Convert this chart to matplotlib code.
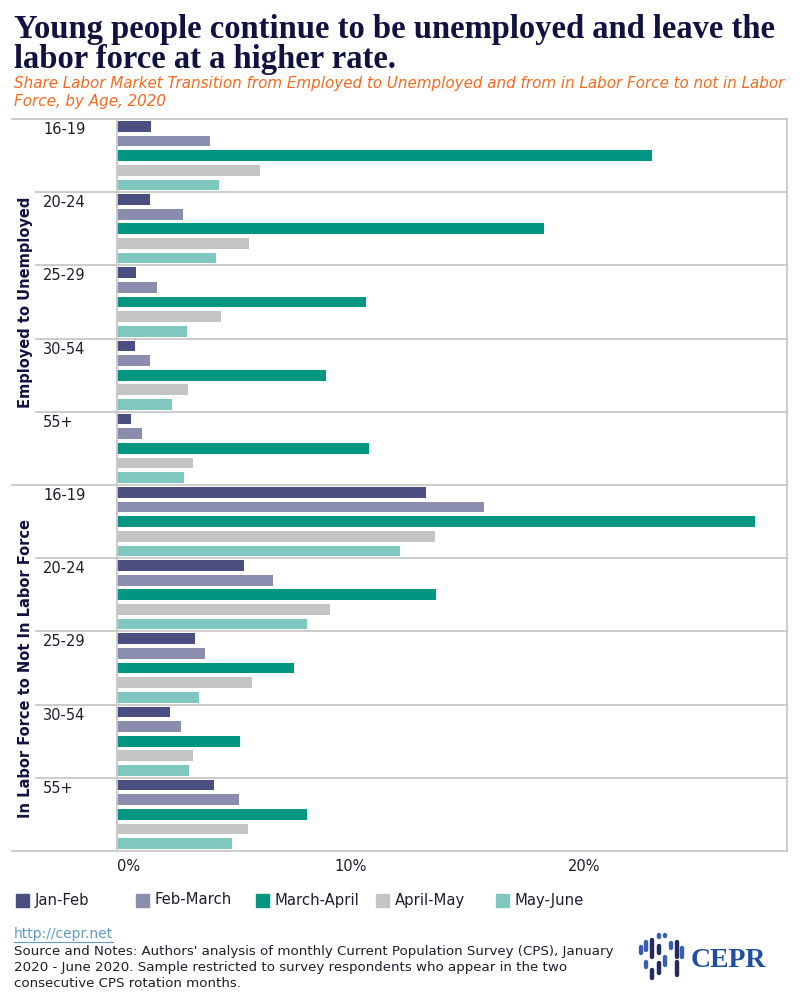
import matplotlib
matplotlib.use("Agg")
import matplotlib.pyplot as plt
from matplotlib.patches import Rectangle
from matplotlib.lines import Line2D

# data (share of workers making the transition, %)
sections = ["Employed to Unemployed", "In Labor Force to Not In Labor Force"]
ages = ["16-19", "20-24", "25-29", "30-54", "55+"]
periods = ["Jan-Feb", "Feb-March", "March-April", "April-May", "May-June"]
colors = ["#4a4e80", "#8b8dae", "#009682", "#c4c4c4", "#80c8bf"]

emp_to_unemp = {
    "Jan-Feb":     [1.46, 1.41, 0.81, 0.77, 0.60],
    "Feb-March":   [3.98, 2.83, 1.71, 1.41, 1.07],
    "March-April": [22.91, 18.29, 10.66, 8.95, 10.79],
    "April-May":   [6.12, 5.65, 4.45, 3.04, 3.25],
    "May-June":    [4.37, 4.24, 3.00, 2.36, 2.87],
}
lf_to_nilf = {
    "Jan-Feb":     [13.23, 5.44, 3.34, 2.27, 4.15],
    "Feb-March":   [15.72, 6.68, 3.77, 2.74, 5.22],
    "March-April": [27.32, 13.65, 7.58, 5.27, 8.14],
    "April-May":   [13.62, 9.12, 5.78, 3.25, 5.61],
    "May-June":    [12.12, 8.14, 3.51, 3.08, 4.93],
}
x_ticks = [0, 10, 20]
x_ticklabels = ["0%", "10%", "20%"]

W, H = 800, 1000
fig = plt.figure(figsize=(8, 10), dpi=100)
ax = fig.add_axes([117 / W, 1 - 851 / H, 670 / W, 732 / H])

grid_c = "#c8c8c8"
text_c = "#1e1e2e"
navy = "#10123f"

n_age = len(ages)
bar_h = 0.146
for s, data in enumerate([emp_to_unemp, lf_to_nilf]):
    for j, p in enumerate(periods):
        ys = [s * n_age + i + (j + 0.5) / len(periods) for i in range(n_age)]
        ax.barh(ys, data[p], height=bar_h, color=colors[j], label=p if s == 0 else None)

ax.set_xlim(0, 670 / 23.35)
ax.set_ylim(2 * n_age, 0)

# group separators
ytr = ax.get_yaxis_transform()
for k in range(2 * n_age + 1):
    x0 = -0.157 if k % n_age == 0 else -0.121
    ax.plot([x0, 1], [k, k], color=grid_c, lw=1.3, transform=ytr, clip_on=False, zorder=0)

for sp in ["top", "bottom"]:
    ax.spines[sp].set_visible(False)
for sp in ["left", "right"]:
    ax.spines[sp].set_color(grid_c)
    ax.spines[sp].set_linewidth(1.3)

ax.set_yticks([])
ax.set_xticks(x_ticks)
ax.set_xticklabels(x_ticklabels, fontsize=10.5, color=text_c)
ax.tick_params(axis="x", length=0, pad=6)
ax.get_xticklabels()[0].set_ha("left")

# age labels
for s in range(2):
    for i, a in enumerate(ages):
        ax.text(-0.110, s * n_age + i + 0.04, a, transform=ytr, ha="left", va="top",
                fontsize=10.5, color=text_c)

# section labels
for s, name in enumerate(sections):
    yc = 1 - (119 + (s + 0.5) * 366) / H
    fig.text(26 / W, yc, name, rotation=90, ha="center", va="center",
             fontsize=10.5, fontweight="bold", color=navy)

# title and subtitle
fig.text(14 / W, 1 - 38 / H, "Young people continue to be unemployed and leave the",
         fontsize=23.5, fontweight="bold", family="Liberation Serif", color=navy, va="baseline")
fig.text(14 / W, 1 - 68 / H, "labor force at a higher rate.",
         fontsize=23.5, fontweight="bold", family="Liberation Serif", color=navy, va="baseline")
orange = "#f26b21"
fig.text(14 / W, 1 - 88 / H,
         "Share Labor Market Transition from Employed to Unemployed and from in Labor Force to not in Labor",
         fontsize=10.9, style="italic", color=orange, va="baseline")
fig.text(14 / W, 1 - 106 / H, "Force, by Age, 2020",
         fontsize=10.9, style="italic", color=orange, va="baseline")

# legend
for j, p in enumerate(periods):
    x = 16 + 120 * j
    fig.patches.append(Rectangle((x / W, 1 - 907 / H), 13 / W, 13 / H,
                                 transform=fig.transFigure, color=colors[j]))
    fig.text((x + 19) / W, 1 - 900 / H, p, fontsize=10.7, color=text_c, va="center")

# footer
link_c = "#5f9cbf"
fig.text(14 / W, 1 - 934 / H, "http://cepr.net", fontsize=10, color=link_c, va="center")
fig.add_artist(Line2D([14 / W, 113 / W], [1 - 942 / H, 1 - 942 / H], color=link_c, lw=0.8))
notes = ["Source and Notes: Authors' analysis of monthly Current Population Survey (CPS), January",
         "2020 - June 2020. Sample restricted to survey respondents who appear in the two",
         "consecutive CPS rotation months."]
for k, line in enumerate(notes):
    fig.text(14 / W, 1 - (951 + 16.3 * k) / H, line, fontsize=9.6, color=text_c, va="center")

# CEPR logo
logo_dark, logo_blue = "#262a5c", "#3a5fb0"
strokes = [(641, 947, 953, logo_blue), (646, 942, 950, logo_blue), (646, 962, 967, logo_blue),
           (652, 940, 957, logo_dark), (652, 970, 978, logo_dark), (659, 935, 937, logo_blue),
           (659, 946, 953, logo_dark), (659, 963, 973, logo_dark), (665, 935, 936, logo_blue),
           (665, 957, 965, logo_blue), (671, 943, 948, logo_blue), (677, 942, 957, logo_dark),
           (677, 962, 975, logo_dark), (682, 948, 957, logo_blue)]
for x, y0, y1, c in strokes:
    fig.add_artist(Line2D([x / W, x / W], [1 - y0 / H, 1 - y1 / H], color=c, lw=3.2,
                          solid_capstyle="round"))
fig.text(691 / W, 1 - 967 / H, "CEPR", fontsize=20, fontweight="bold",
         family="Liberation Serif", color="#1f4f9e", va="baseline")

fig.savefig("out.png", dpi=100)
